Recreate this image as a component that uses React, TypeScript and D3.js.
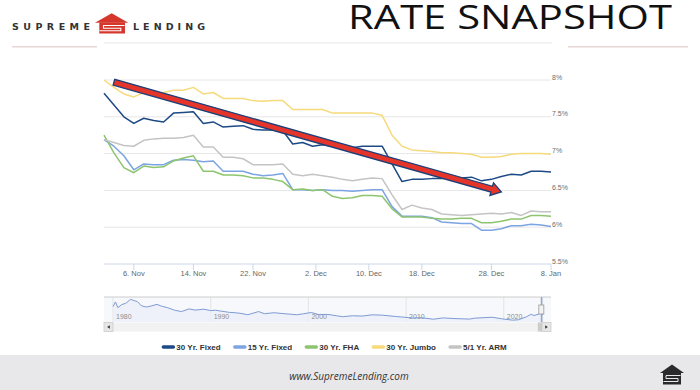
import React from 'react';
import * as d3 from 'd3';

// business days shown on the ordinal x axis
const dates = [
  '2023-11-01', '2023-11-02', '2023-11-03', '2023-11-06', '2023-11-07', '2023-11-08', '2023-11-09', '2023-11-10',
  '2023-11-13', '2023-11-14', '2023-11-15', '2023-11-16', '2023-11-17', '2023-11-20', '2023-11-21', '2023-11-22',
  '2023-11-24', '2023-11-27', '2023-11-28', '2023-11-29', '2023-11-30', '2023-12-01', '2023-12-04', '2023-12-05',
  '2023-12-06', '2023-12-07', '2023-12-08', '2023-12-11', '2023-12-12', '2023-12-13', '2023-12-14', '2023-12-15',
  '2023-12-18', '2023-12-19', '2023-12-20', '2023-12-21', '2023-12-22', '2023-12-26', '2023-12-27', '2023-12-28',
  '2023-12-29', '2024-01-02', '2024-01-03', '2024-01-04', '2024-01-05', '2024-01-08',
];

const fixed30 = [
  7.82, 7.66, 7.50, 7.41, 7.48, 7.45, 7.43, 7.55, 7.56, 7.57,
  7.41, 7.43, 7.36, 7.37, 7.38, 7.33, 7.32, 7.32, 7.31, 7.13,
  7.15, 7.10, 7.12, 7.10, 7.07, 7.08, 7.10, 7.10, 7.10, 6.86,
  6.62, 6.65, 6.65, 6.66, 6.66, 6.67, 6.67, 6.68, 6.63, 6.65,
  6.69, 6.72, 6.71, 6.76, 6.76, 6.75,
];
const fixed15 = [
  7.19, 7.10, 6.97, 6.78, 6.86, 6.85, 6.85, 6.91, 6.92, 6.91,
  6.89, 6.90, 6.76, 6.76, 6.76, 6.72, 6.70, 6.71, 6.73, 6.51,
  6.51, 6.50, 6.51, 6.50, 6.50, 6.49, 6.50, 6.51, 6.51, 6.28,
  6.15, 6.15, 6.15, 6.13, 6.07, 6.06, 6.05, 6.05, 5.96, 5.96,
  5.98, 6.02, 6.02, 6.04, 6.03, 6.01,
];
const fha30 = [
  7.25, 7.01, 6.81, 6.74, 6.83, 6.81, 6.82, 6.90, 6.94, 6.97,
  6.76, 6.76, 6.71, 6.71, 6.70, 6.67, 6.67, 6.65, 6.62, 6.51,
  6.52, 6.50, 6.51, 6.42, 6.39, 6.40, 6.43, 6.43, 6.42, 6.25,
  6.14, 6.14, 6.14, 6.12, 6.11, 6.11, 6.12, 6.12, 6.06, 6.06,
  6.08, 6.11, 6.11, 6.16, 6.16, 6.15,
];
const jumbo30 = [
  8.00, 7.90, 7.81, 7.77, 7.83, 7.82, 7.83, 7.86, 7.86, 7.90,
  7.81, 7.83, 7.75, 7.75, 7.75, 7.72, 7.71, 7.72, 7.72, 7.60,
  7.60, 7.60, 7.60, 7.55, 7.55, 7.55, 7.55, 7.55, 7.52, 7.25,
  7.10, 7.05, 7.04, 7.03, 7.01, 7.01, 7.00, 6.99, 6.95, 6.95,
  6.96, 6.99, 7.00, 7.00, 7.00, 6.99,
];
const arm51 = [
  7.19, 7.15, 7.11, 7.10, 7.18, 7.20, 7.21, 7.21, 7.22, 7.25,
  7.09, 7.09, 6.95, 6.95, 6.93, 6.85, 6.85, 6.85, 6.86, 6.72,
  6.70, 6.72, 6.70, 6.68, 6.65, 6.63, 6.65, 6.67, 6.66, 6.44,
  6.24, 6.30, 6.26, 6.24, 6.18, 6.17, 6.16, 6.17, 6.18, 6.19,
  6.18, 6.20, 6.16, 6.22, 6.21, 6.21,
];

const seriesNames = ['30 Yr. Fixed', '15 Yr. Fixed', '30 Yr. FHA', '30 Yr. Jumbo', '5/1 Yr. ARM'];
const seriesValues = [fixed30, fixed15, fha30, jumbo30, arm51];
const seriesColors = ['#1d4a87', '#7ca3e2', '#8dc56f', '#f6da7c', '#c4c4c4'];

const yTicks = [5.5, 6, 6.5, 7, 7.5, 8];
const yTickLabels = ['5.5%', '6%', '6.5%', '7%', '7.5%', '8%'];
const xTickDates = ['2023-11-06', '2023-11-14', '2023-11-22', '2023-12-02', '2023-12-10', '2023-12-18', '2023-12-28', '2024-01-08'];
const xTickLabels = ['6. Nov', '14. Nov', '22. Nov', '2. Dec', '10. Dec', '18. Dec', '28. Dec', '8. Jan'];

// arrow annotation, in data units
const arrowFrom = { date: '2023-11-02', rate: 7.97 };
const arrowTo = { date: '2023-12-29', rate: 6.48 };

// navigator: long-run 30 yr fixed history
const navYears = [
  1980.0, 1980.25, 1980.5, 1980.9, 1981.3, 1981.8, 1982.2, 1982.5, 1982.9, 1983.4, 1983.9, 1984.5, 1985.0, 1985.6,
  1986.3, 1987.0, 1987.8, 1988.4, 1989.3, 1990.0, 1990.5, 1991.0, 1991.9, 1992.5, 1993.0, 1993.8, 1994.9, 1995.5,
  1996.5, 1997.5, 1998.8, 1999.5, 2000.3, 2001.0, 2002.0, 2002.9, 2003.5, 2004.5, 2005.5, 2006.5, 2007.5, 2008.9,
  2009.5, 2010.8, 2011.5, 2012.8, 2013.8, 2014.9, 2016.5, 2017.0, 2018.8, 2019.8, 2020.9, 2021.5, 2022.3, 2022.8,
  2023.1, 2023.8, 2024.0,
];
const navRates = [
  12.9, 16.5, 12.2, 14.5, 15.4, 18.4, 17.4, 16.7, 13.6, 12.6, 13.4, 14.6, 13.2, 12.1,
  10.2, 9.2, 11.2, 10.3, 11.0, 9.9, 10.2, 9.6, 8.6, 8.3, 7.9, 6.8, 9.2, 7.6,
  8.3, 7.6, 6.8, 7.5, 8.5, 7.0, 7.0, 6.0, 5.3, 6.0, 5.8, 6.7, 6.5, 5.5,
  5.1, 4.3, 4.6, 3.4, 4.4, 3.9, 3.5, 4.2, 4.9, 3.7, 2.7, 3.0, 5.2, 7.1,
  6.2, 7.8, 6.7,
];
const navTicks = [1980, 1990, 2000, 2010, 2020];

const times = dates.map((d) => new Date(d).getTime());

function measure(text: string, font: string) {
  const ctx = document.createElement('canvas').getContext('2d');
  if (!ctx) return text.length * 4.5;
  ctx.font = font;
  return ctx.measureText(text).width;
}

export default function App() {
  const plot = { left: 104, right: 551, top: 80, bottom: 264 };
  const x = d3.scaleLinear().domain([0, dates.length - 1]).range([plot.left, plot.right]);
  const y = d3.scaleLinear().domain([5.5, 8]).range([plot.bottom, plot.top]);

  // ordinal axis: a date between two data points sits proportionally between them
  const xOfDate = (ds: string) => {
    const t = new Date(ds).getTime();
    const i = Math.max(0, Math.min(times.length - 2, d3.bisectRight(times, t) - 1));
    const f = (t - times[i]) / (times[i + 1] - times[i]);
    return x(i + f);
  };

  const line = d3
    .line<number>()
    .x((_, i) => x(i))
    .y((v) => y(v));

  // arrow geometry
  const ax0 = xOfDate(arrowFrom.date);
  const ay0 = y(arrowFrom.rate);
  const ax1 = xOfDate(arrowTo.date);
  const ay1 = y(arrowTo.rate);
  const len = Math.hypot(ax1 - ax0, ay1 - ay0);
  const ux = (ax1 - ax0) / len;
  const uy = (ay1 - ay0) / len;
  const px = -uy;
  const py = ux;
  const bw = 3;
  const hw = 6.5;
  const hl = 10;
  const bx = ax1 - ux * hl;
  const by = ay1 - uy * hl;
  const arrowPts = [
    [ax0 + px * bw, ay0 + py * bw],
    [bx + px * bw, by + py * bw],
    [bx + px * hw, by + py * hw],
    [ax1, ay1],
    [bx - px * hw, by - py * hw],
    [bx - px * bw, by - py * bw],
    [ax0 - px * bw, ay0 - py * bw],
  ]
    .map((p) => p.join(','))
    .join(' ');

  // navigator
  const nav = { top: 297, bottom: 322 };
  const nx = d3.scaleLinear().domain([1979.08, 2024.83]).range([plot.left, plot.right]);
  const ny = d3.scaleLinear().domain([1.3, 20.2]).range([nav.bottom, nav.top]);
  const navPts = navYears.map((yr, i) => [yr, navRates[i]] as [number, number]);
  const navLine = d3
    .line<[number, number]>()
    .x((d) => nx(d[0]))
    .y((d) => ny(d[1]));
  const navArea = d3
    .area<[number, number]>()
    .x((d) => nx(d[0]))
    .y0(nav.bottom)
    .y1((d) => ny(d[1]));
  const selX0 = nx(2023.84);
  const selX1 = nx(2024.02);

  // legend layout
  const legendFont = 'bold 8px "Liberation Sans"';
  const symW = 13;
  const itemGap = 12.5;
  const widths = seriesNames.map((n) => symW + 1.5 + measure(n, legendFont));
  const total = d3.sum(widths) + itemGap * (widths.length - 1);
  let cursor = 334.5 - total / 2;
  const legendX = widths.map((w) => {
    const s = cursor;
    cursor += w + itemGap;
    return s;
  });

  return (
    <svg
      width={700}
      height={390}
      style={{ position: 'absolute', left: 0, top: 0, display: 'block', background: '#fff' }}
      fontFamily='"Liberation Sans", Arial, sans-serif'
    >
      {/* header */}
      <text x={12} y={29.5} fontFamily='"DejaVu Sans", sans-serif' fontSize={9.5} fontWeight={600} fill="#333" textLength={78} lengthAdjust="spacing">
        SUPREME
      </text>
      <text x={133} y={29.5} fontFamily='"DejaVu Sans", sans-serif' fontSize={9.5} fontWeight={600} fill="#333" textLength={72} lengthAdjust="spacing">
        LENDING
      </text>
      <g>
        <polygon points="95,22.7 111.7,13.3 128.3,22.7" fill="#d5372c" />
        <rect x={99.3} y={22.5} width={25.7} height={11} fill="#d5372c" />
        <polyline points="124.5,25.5 103.5,25.5 103.5,28.2 120.8,28.2 120.8,30.8 99.5,30.8" fill="none" stroke="#fff" strokeWidth={1.1} />
      </g>
      <text x={348} y={29} fontFamily='"Open Sans", sans-serif' fontSize={32} fill="#111" textLength={324} lengthAdjust="spacingAndGlyphs">
        RATE SNAPSHOT
      </text>
      <line x1={12} x2={97} y1={46.7} y2={46.7} stroke="#e8d6d6" strokeWidth={1.5} />
      <line x1={104} x2={552} y1={42.7} y2={42.7} stroke="#f0f0f0" strokeWidth={1.5} />
      <line x1={568} x2={688} y1={46.7} y2={46.7} stroke="#e8d6d6" strokeWidth={1.5} />

      {/* grid */}
      {yTicks.map((t, i) => (
        <g key={t}>
          {i > 0 && <line x1={plot.left} x2={plot.right} y1={y(t)} y2={y(t)} stroke="#e6e6e6" strokeWidth={1} />}
          <text x={552} y={y(t) - 0.5} fontSize={7} fill="#6e6e6e">
            {yTickLabels[i]}
          </text>
        </g>
      ))}
      <line x1={plot.left} x2={plot.right} y1={plot.bottom} y2={plot.bottom} stroke="#ccd6eb" strokeWidth={1} />
      {xTickDates.map((d, i) => {
        const tx = xOfDate(d);
        return (
          <g key={d}>
            <line x1={tx} x2={tx} y1={plot.bottom} y2={plot.bottom + 6} stroke="#ccd6eb" strokeWidth={1} />
            <text x={tx} y={275.7} fontSize={7.5} fill="#666" textAnchor="middle">
              {xTickLabels[i]}
            </text>
          </g>
        );
      })}

      {/* series */}
      {seriesValues.map((vals, i) => (
        <path key={seriesNames[i]} d={line(vals) || ''} fill="none" stroke={seriesColors[i]} strokeWidth={1.5} strokeLinejoin="round" />
      ))}

      {/* arrow */}
      <polygon points={arrowPts} fill="#e5352a" stroke="#1d3f78" strokeWidth={1.3} strokeLinejoin="miter" />

      {/* navigator */}
      <rect x={plot.left} y={nav.top} width={plot.right - plot.left} height={nav.bottom - nav.top} fill="#f7f8fb" />
      {navTicks.map((t) => (
        <line key={t} x1={nx(t)} x2={nx(t)} y1={nav.top} y2={nav.bottom} stroke="#e3e3e3" strokeWidth={1} />
      ))}
      <path d={navArea(navPts) || ''} fill="#e9eef8" fillOpacity={0.7} />
      {navTicks.map((t) => (
        <text key={t} x={nx(t) + 3} y={318.5} fontSize={7} fill="#8e8e8e">
          {t}
        </text>
      ))}
      <path d={navLine(navPts) || ''} fill="none" stroke="#7f9ad4" strokeWidth={1} />
      <rect x={selX0} y={nav.top} width={selX1 - selX0} height={nav.bottom - nav.top} fill="rgba(102,133,194,0.3)" />
      <line x1={plot.left} x2={plot.right} y1={nav.top} y2={nav.top} stroke="#cccccc" strokeWidth={1} />
      <line x1={selX0} x2={selX0} y1={nav.top} y2={nav.bottom} stroke="#999" strokeWidth={1} />
      <rect x={selX0 - 2.5} y={305} width={5} height={9} fill="#f2f2f2" stroke="#999" strokeWidth={0.8} />

      {/* scrollbar */}
      <rect x={plot.left} y={322.5} width={plot.right - plot.left} height={9} fill="#f2f2f2" />
      <rect x={plot.left} y={322.5} width={9} height={9} fill="#e6e6e6" stroke="#cccccc" strokeWidth={0.8} />
      <polygon points={`${plot.left + 3.2},327 ${plot.left + 5.8},325.3 ${plot.left + 5.8},328.7`} fill="#333" />
      <rect x={selX0 - 3.5} y={322.5} width={plot.right - 9 - (selX0 - 3.5)} height={9} fill="#cccccc" />
      <rect x={plot.right - 9} y={322.5} width={9} height={9} fill="#e6e6e6" stroke="#cccccc" strokeWidth={0.8} />
      <polygon points={`${plot.right - 3.2},327 ${plot.right - 5.8},325.3 ${plot.right - 5.8},328.7`} fill="#333" />

      {/* legend */}
      {seriesNames.map((n, i) => (
        <g key={n} transform={`translate(${legendX[i]},0)`}>
          <line x1={1.5} x2={symW - 1.5} y1={347} y2={347} stroke={seriesColors[i]} strokeWidth={3.5} strokeLinecap="round" />
          <text x={symW + 1.5} y={350} fontSize={8} fontWeight="bold" fill="#333">
            {n}
          </text>
        </g>
      ))}

      {/* footer */}
      <rect x={0} y={355} width={700} height={35} fill="#e8e8ea" />
      <text x={349} y={379.5} fontFamily='"Open Sans", sans-serif' fontSize={10} fontStyle="italic" fill="#333" textAnchor="middle">
        www.SupremeLending.com
      </text>
      <g>
        <polygon points="660,373 672,364.5 684,373" fill="#2a2a2a" />
        <rect x={663} y={372.5} width={18} height={12} fill="#2a2a2a" />
        <polyline points="680.5,375.5 666,375.5 666,378.5 678,378.5 678,381.5 663.5,381.5" fill="none" stroke="#e8e8ea" strokeWidth={1} />
      </g>
    </svg>
  );
}
